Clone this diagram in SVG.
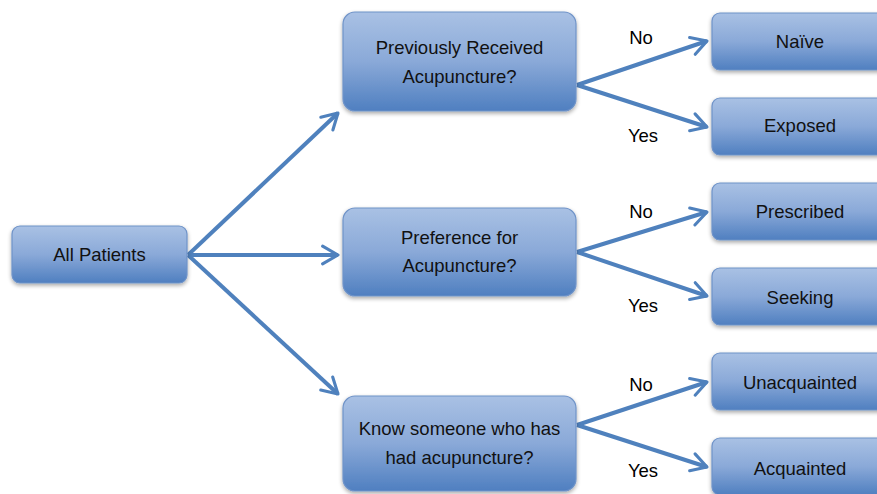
<svg xmlns="http://www.w3.org/2000/svg" width="877" height="494" viewBox="0 0 877 494">
<defs>
<linearGradient id="g" x1="0" y1="0" x2="0" y2="1">
<stop offset="0" stop-color="#a9c1e4"/>
<stop offset="0.5" stop-color="#8aa9d8"/>
<stop offset="1" stop-color="#4f7fc0"/>
</linearGradient>
<filter id="sh" x="-10%" y="-10%" width="120%" height="130%">
<feGaussianBlur in="SourceAlpha" stdDeviation="2"/>
<feOffset dx="0" dy="2"/>
<feComponentTransfer><feFuncA type="linear" slope="0.35"/></feComponentTransfer>
<feMerge><feMergeNode/><feMergeNode in="SourceGraphic"/></feMerge>
</filter>
<marker id="ah" viewBox="0 0 10 10" refX="8" refY="5" markerWidth="5.5" markerHeight="5.5" orient="auto" markerUnits="strokeWidth">
<path d="M1,1 L8,5 L1,9" fill="none" stroke="#4f81bd" stroke-width="1.4" stroke-linecap="round" stroke-linejoin="round"/>
</marker>
</defs>
<style>
.box{fill:url(#g);stroke:#6f93c8;stroke-width:1.2;filter:url(#sh)}
.t{font-family:"Liberation Sans",Arial,sans-serif;font-size:18.5px;fill:#111;text-anchor:middle}
.l{font-family:"Liberation Sans",Arial,sans-serif;font-size:18.5px;fill:#000;text-anchor:middle}
.c{stroke:#4f81bd;stroke-width:4;fill:none;marker-end:url(#ah)}
</style>
<rect width="877" height="494" fill="#ffffff"/>
<g id="connectors">
<line class="c" x1="188" y1="255" x2="338" y2="113"/>
<line class="c" x1="188" y1="255" x2="338" y2="255"/>
<line class="c" x1="188" y1="255" x2="338" y2="394"/>
<line class="c" x1="577" y1="85" x2="707" y2="41"/>
<line class="c" x1="577" y1="85" x2="707" y2="127"/>
<line class="c" x1="577" y1="252" x2="707" y2="212"/>
<line class="c" x1="577" y1="252" x2="707" y2="296"/>
<line class="c" x1="577" y1="425" x2="707" y2="382"/>
<line class="c" x1="577" y1="425" x2="707" y2="467"/>
</g>
<g id="labels">
<text class="l" x="641" y="44">No</text>
<text class="l" x="643" y="142">Yes</text>
<text class="l" x="641" y="218">No</text>
<text class="l" x="643" y="312">Yes</text>
<text class="l" x="641" y="391">No</text>
<text class="l" x="643" y="477">Yes</text>
</g>
<g id="all-patients"><rect class="box" x="12" y="226" width="175" height="57" rx="8"/><text class="t" x="99.5" y="261">All Patients</text></g>
<g id="q1"><rect class="box" x="343" y="12" width="233" height="99" rx="12"/><text class="t" x="459.5" y="54">Previously Received</text><text class="t" x="459.5" y="83">Acupuncture?</text></g>
<g id="q2"><rect class="box" x="343" y="208" width="233" height="88" rx="12"/><text class="t" x="459.5" y="244">Preference for</text><text class="t" x="459.5" y="272">Acupuncture?</text></g>
<g id="q3"><rect class="box" x="343" y="396" width="233" height="95" rx="12"/><text class="t" x="459.5" y="435">Know someone who has</text><text class="t" x="459.5" y="464">had acupuncture?</text></g>
<g id="naive"><rect class="box" x="712" y="13" width="180" height="57" rx="8"/><text class="t" x="800" y="48">Naïve</text></g>
<g id="exposed"><rect class="box" x="712" y="98" width="180" height="57" rx="8"/><text class="t" x="800" y="132">Exposed</text></g>
<g id="prescribed"><rect class="box" x="712" y="183" width="180" height="57" rx="8"/><text class="t" x="800" y="218">Prescribed</text></g>
<g id="seeking"><rect class="box" x="712" y="268" width="180" height="57" rx="8"/><text class="t" x="800" y="304">Seeking</text></g>
<g id="unacquainted"><rect class="box" x="712" y="353" width="180" height="57" rx="8"/><text class="t" x="800" y="389">Unacquainted</text></g>
<g id="acquainted"><rect class="box" x="712" y="438" width="180" height="57" rx="8"/><text class="t" x="800" y="475">Acquainted</text></g>
</svg>
